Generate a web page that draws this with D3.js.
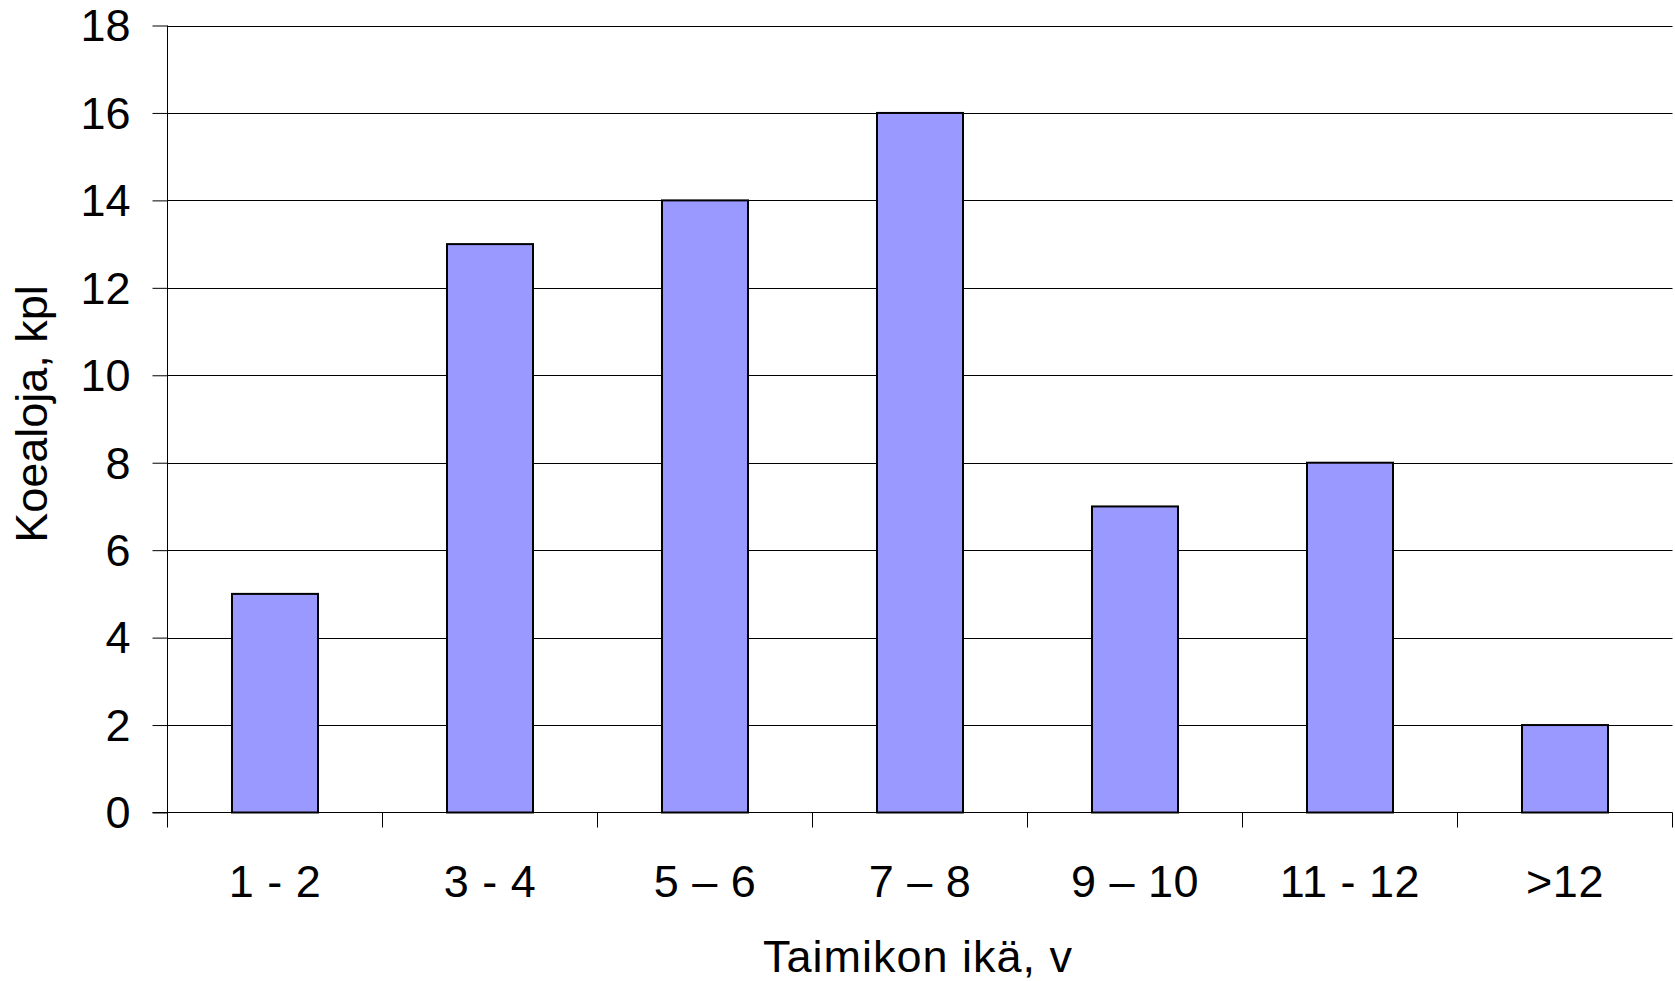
<!DOCTYPE html>
<html>
<head>
<meta charset="utf-8">
<script src="https://cdn.jsdelivr.net/npm/d3@7"></script>
<style>
  html, body { margin: 0; padding: 0; background: #fff; }
  svg { display: block; }
  text { font-family: "Liberation Sans", Arial, sans-serif; fill: #000; }
</style>
</head>
<body>
<svg id="chart" width="1675" height="981"></svg>
<script>
// Age classes of the seedling stands and number of sample plots in each
const categories = ["1 - 2", "3 - 4", "5 \u2013 6", "7 \u2013 8", "9 \u2013 10", "11 - 12", ">12"];
const counts = [5, 13, 14, 16, 7, 8, 2];
const yTicks = [0, 2, 4, 6, 8, 10, 12, 14, 16, 18];
const xTitle = "Taimikon ikä, v";
const yTitle = "Koealoja, kpl";

const svg = d3.select("#chart");
const plotLeft = 167.5, plotRight = 1672.5, plotTop = 25.5, plotBottom = 812.5;

const x = d3.scaleBand().domain(categories).range([plotLeft, plotRight]).paddingInner(0.6).paddingOuter(0.3);
const xBand = d3.scaleBand().domain(categories).range([plotLeft, plotRight]);
const y = d3.scaleLinear().domain([0, 18]).range([plotBottom, plotTop]);

// horizontal gridlines
svg.append("g")
  .selectAll("line")
  .data(yTicks.filter(d => d > 0))
  .join("line")
  .attr("x1", plotLeft).attr("x2", plotRight)
  .attr("y1", d => Math.round(y(d)) + 0.5).attr("y2", d => Math.round(y(d)) + 0.5)
  .attr("stroke", "#000").attr("stroke-width", 1);

// bars
svg.append("g")
  .selectAll("rect")
  .data(categories)
  .join("rect")
  .attr("x", d => x(d))
  .attr("width", x.bandwidth())
  .attr("y", (d, i) => y(counts[i]))
  .attr("height", (d, i) => y(0) - y(counts[i]))
  .attr("fill", "#9999ff")
  .attr("stroke", "#000")
  .attr("stroke-width", 2);

// y axis
const yAxis = svg.append("g")
  .attr("transform", `translate(${plotLeft},0)`)
  .call(d3.axisLeft(y).tickValues(yTicks).tickSize(15).tickPadding(22).tickFormat(d3.format("d")));
yAxis.select(".domain").attr("stroke", "#000").attr("d", `M0,${plotTop}V${plotBottom}`);
yAxis.selectAll(".tick line").attr("stroke", "#000");
yAxis.selectAll(".tick text").attr("font-size", 45).attr("font-family", "Liberation Sans, Arial, sans-serif").attr("dy", "0.34em");

// x axis: ticks at category boundaries
const boundaries = categories.map(c => xBand(c)).concat([plotRight]);
const xAxisG = svg.append("g");
xAxisG.append("line")
  .attr("x1", plotLeft - 15).attr("x2", plotRight)
  .attr("y1", plotBottom).attr("y2", plotBottom)
  .attr("stroke", "#000");
xAxisG.selectAll("line.tk")
  .data(boundaries)
  .join("line")
  .attr("class", "tk")
  .attr("x1", d => Math.round(d - 0.5) + 0.5).attr("x2", d => Math.round(d - 0.5) + 0.5)
  .attr("y1", plotBottom).attr("y2", plotBottom + 15)
  .attr("stroke", "#000");
xAxisG.selectAll("text")
  .data(categories)
  .join("text")
  .attr("x", d => xBand(d) + xBand.bandwidth() / 2)
  .attr("y", 897)
  .attr("text-anchor", "middle")
  .attr("font-size", 45)
  .attr("letter-spacing", "0.5px")
  .text(d => d);

// axis titles
svg.append("text")
  .attr("x", (plotLeft + plotRight) / 2 - 2)
  .attr("y", 972)
  .attr("text-anchor", "middle")
  .attr("font-size", 45)
  .attr("letter-spacing", "1px")
  .text(xTitle);

svg.append("text")
  .attr("transform", `translate(47,414) rotate(-90)`)
  .attr("text-anchor", "middle")
  .attr("font-size", 45)
  .text(yTitle);
</script>
</body>
</html>
